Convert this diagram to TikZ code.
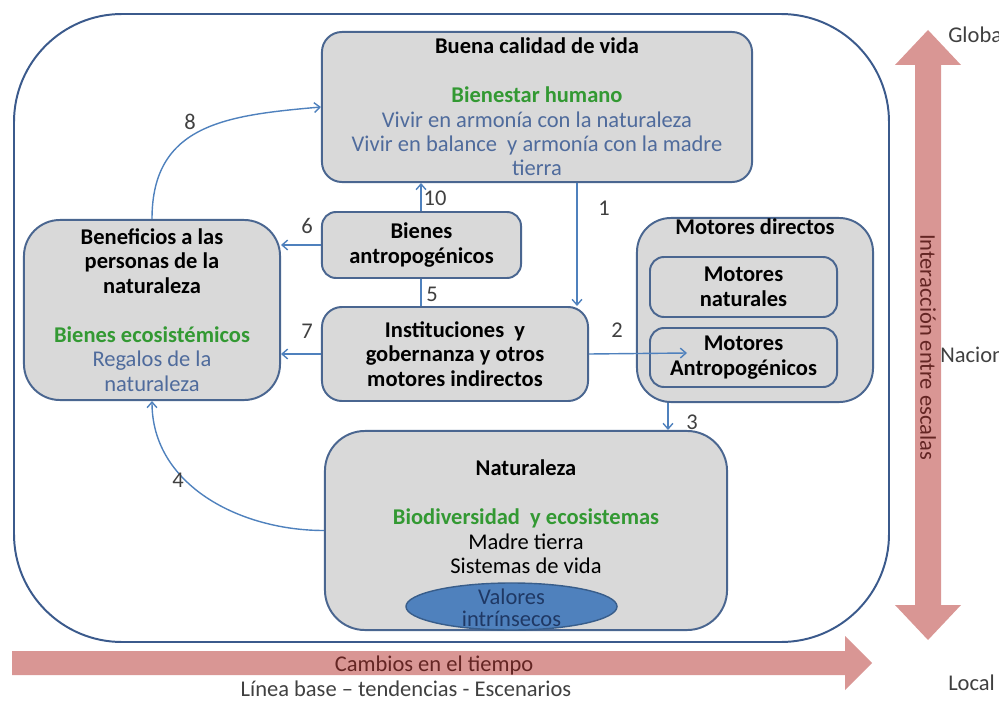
\documentclass[tikz,border=0pt]{standalone}
\usepackage{fontspec}
\setmainfont{Carlito}
\usetikzlibrary{arrows.meta,shapes.geometric}
\definecolor{boxline}{HTML}{4A6690}
\definecolor{boxfill}{HTML}{D9D9D9}
\definecolor{outerline}{HTML}{3B5A8C}
\definecolor{linkblue}{HTML}{4F81BD}
\definecolor{ecogreen}{HTML}{339933}
\definecolor{softblue}{HTML}{4F6B9C}
\definecolor{scalepink}{HTML}{D99694}
\definecolor{scaletext}{HTML}{632523}
\definecolor{ovalline}{HTML}{385D8A}
\definecolor{ovaltext}{HTML}{1F3864}
\definecolor{numgray}{HTML}{404040}

\begin{document}
\begin{tikzpicture}[x=0.025cm, y=-0.025cm,
    every node/.style={font=\fontsize{16}{17.4}\selectfont, inner sep=0pt},
    box/.style={draw=boxline, fill=boxfill, line width=1.4pt, rounded corners=0.5cm, align=center},
    link/.style={draw=linkblue, line width=1pt, -{Straight Barb[length=4pt,width=7pt]}},
    num/.style={text=numgray},
    scalearrow/.style={fill=scalepink} % the two wide pink arrows
]
    \useasboundingbox (0,0) rectangle (999,702);
    \clip (0,0) rectangle (999,702);

    \draw[outerline, line width=1.4pt, rounded corners=2.7cm] (14,14) rectangle (889,642);

    \node[box, minimum width=10.75cm, minimum height=3.75cm] (buena) at (537,107)
        {\textbf{Buena calidad de vida}\\[17.4pt]
         \textcolor{ecogreen}{\textbf{Bienestar humano}}\\
         \textcolor{softblue}{Vivir en armonía con la naturaleza}\\
         \textcolor{softblue}{Vivir en balance\ \ y armonía con la madre}\\
         \textcolor{softblue}{tierra}};
    \node[box, rounded corners=0.9cm, minimum width=6.4cm, minimum height=4.5cm] (ben) at (152,310)
        {\textbf{Beneficios a las}\\ \textbf{personas de la}\\ \textbf{naturaleza}\\[17.4pt]
         \textcolor{ecogreen}{\textbf{Bienes ecosistémicos}}\\
         \textcolor{softblue}{Regalos de la}\\ \textcolor{softblue}{naturaleza}};
    \node[box, rounded corners=0.35cm, minimum width=4.975cm, minimum height=1.65cm] (bienes) at (421.5,245)
        {\textbf{Bienes}\\ \textbf{antropogénicos}};
    \node[box, minimum width=6.65cm, minimum height=2.35cm] (inst) at (455,354)
        {\textbf{Instituciones\ \ y}\\ \textbf{gobernanza y otros}\\ \textbf{motores indirectos}};
    \node[box, rounded corners=0.85cm, minimum width=5.9cm, minimum height=4.6cm] (motd) at (755,310) {};
    \node[font=\fontsize{16}{17.4}\selectfont\bfseries] (mdtitle) at (755,227) {Motores directos};
    \node[box, rounded corners=0.35cm, minimum width=4.675cm, minimum height=1.5cm] (motn) at (743.5,287)
        {\textbf{Motores}\\ \textbf{naturales}};
    \node[box, rounded corners=0.35cm, minimum width=4.675cm, minimum height=1.475cm] (mota) at (743.5,357.5)
        {\textbf{Motores}\\ \textbf{Antropogénicos}};
    \node[box, rounded corners=1cm, minimum width=10.05cm, minimum height=4.975cm] (nat) at (526,530.5) {};
    \node[align=center] (nattext) at (526,517)
        {\textbf{Naturaleza}\\[17.4pt]
         \textcolor{ecogreen}{\textbf{Biodiversidad\ \ y ecosistemas}}\\
         Madre tierra\\ Sistemas de vida};
    \node[ellipse, draw=ovalline, fill=linkblue, line width=1pt, minimum width=5.275cm, minimum height=1.175cm] (valores) at (511.5,606.5) {};
    \node[align=center, text=ovaltext, font=\fontsize{16}{15.5}\selectfont] (valtext) at (511.5,608) {Valores\\ intrínsecos};

    \coordinate (antrotip) at (687,353);

    \draw[link] (buena.south -| 577,0) -- (inst.north -| 577,0);
    \draw[link] (inst.east) -- (antrotip);
    \draw[link] (motd.south -| 668,0) -- (nat.north -| 668,0);
    \draw[link] (nat.west) to[out=180, in=-90] (ben.south);
    \draw[linkblue, line width=1pt] (inst.north -| 421,0) -- (bienes.south -| 421,0);
    \draw[link] (bienes.west) -- (bienes.west -| ben.east);
    \draw[link] (inst.west) -- (inst.west -| ben.east);
    \draw[link] (ben.north) to[out=90, in=185, looseness=1.2] (buena.west);
    \draw[link] (bienes.north -| 421,0) -- (buena.south -| 421,0);

    \node[num] (n1) at (604,208) {1};
    \node[num] (n2) at (617,330) {2};
    \node[num] (n3) at (692,422) {3};
    \node[num] (n4) at (178,480) {4};
    \node[num] (n5) at (432,294) {5};
    \node[num] (n6) at (307,226) {6};
    \node[num] (n7) at (307,331) {7};
    \node[num] (n8) at (190,122) {8};
    \node[num] (n10) at (435,198) {10};

    % scales
    \fill[scalearrow] (928,30) -- (961,65) -- (941,65) -- (941,605) -- (961,605) -- (928,640)
        -- (895,605) -- (915,605) -- (915,65) -- (895,65) -- cycle;
    \fill[scalearrow] (12,651) -- (845,651) -- (845,636) -- (872,663) -- (845,690) -- (845,675) -- (12,675) -- cycle;
    \node[text=scaletext, rotate=-90] (escalas) at (928,347) {Interacción entre escalas};
    \node[text=scaletext] (cambios) at (434,665) {Cambios en el tiempo};
    \node[text=numgray] (lineabase) at (406,689) {Línea base – tendencias - Escenarios};
    \node[num, anchor=west] (global) at (948,35) {Global};
    \node[num, anchor=west] (nacional) at (940,355) {Nacional};
    \node[num, anchor=west] (local) at (948,683) {Local};
\end{tikzpicture}
\end{document}
